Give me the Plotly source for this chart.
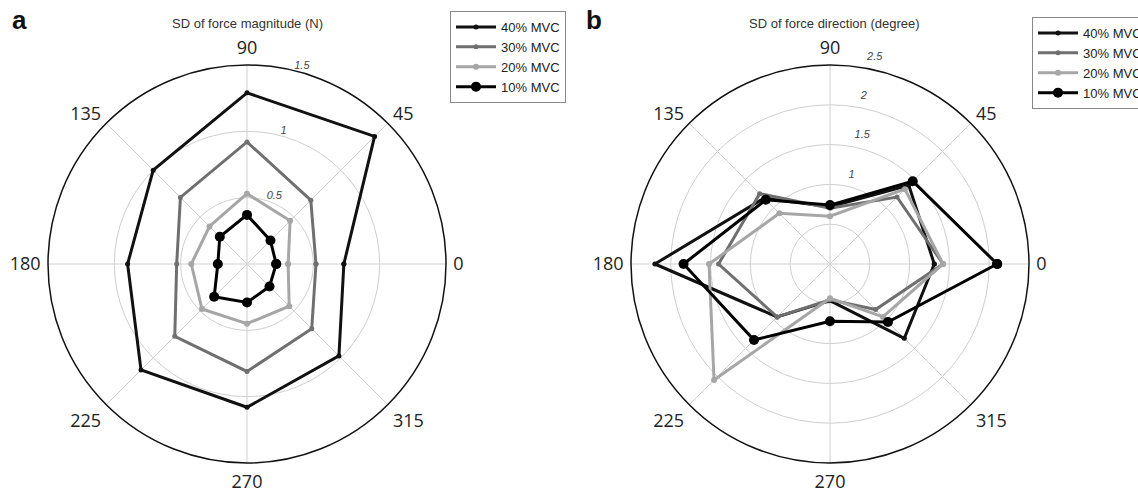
import plotly.graph_objects as go

# Angles (degrees) shared by both panels
angles = [0, 45, 90, 135, 180, 225, 270, 315]
series_names = ["40% MVC", "30% MVC", "20% MVC", "10% MVC"]

# Panel a: SD of force magnitude (N)
mag_40 = [0.73, 1.36, 1.29, 1.00, 0.90, 1.13, 1.08, 0.98]
mag_30 = [0.52, 0.68, 0.92, 0.71, 0.53, 0.77, 0.81, 0.69]
mag_20 = [0.31, 0.46, 0.53, 0.40, 0.42, 0.48, 0.45, 0.45]
mag_10 = [0.22, 0.25, 0.37, 0.29, 0.22, 0.35, 0.29, 0.24]

# Panel b: SD of force direction (degree)
dir_40 = [1.31, 1.40, 0.72, 1.17, 2.20, 0.94, 0.46, 1.32]
dir_30 = [1.42, 1.19, 0.70, 1.25, 1.40, 0.94, 0.45, 0.81]
dir_20 = [1.42, 1.33, 0.60, 0.90, 1.52, 2.06, 0.43, 0.94]
dir_10 = [2.10, 1.47, 0.74, 1.14, 1.84, 1.35, 0.72, 1.03]

mag_ticks = [0.5, 1, 1.5]
mag_ticktext = ["0.5", "1", "1.5"]
dir_ticks = [0.5, 1, 1.5, 2, 2.5]
dir_ticktext = ["", "1", "1.5", "2", "2.5"]

colors = ["#111111", "#6f6f6f", "#a6a6a6", "#000000"]
msizes = [5, 5, 6, 10]

W, H = 1138, 492

def closed(v):
    return list(v) + [v[0]]

def raised(labels, n):
    # blank trailing lines lift each radial label just outside its ring
    return [t + "<br> " * n if t else t for t in labels]

fig = go.Figure()
for data, sub, leg in [([mag_40, mag_30, mag_20, mag_10], "polar", "legend"),
                       ([dir_40, dir_30, dir_20, dir_10], "polar2", "legend2")]:
    for name, vals, c, ms in zip(series_names, data, colors, msizes):
        fig.add_trace(go.Scatterpolar(
            r=closed(vals), theta=closed(angles), mode="lines+markers",
            name=name, subplot=sub, legend=leg,
            line=dict(color=c, width=3),
            marker=dict(color=c, size=ms, symbol="circle"),
        ))

def polar_layout(xdom, rng, tv, tt, ang, lift):
    return dict(
        domain=dict(x=xdom, y=[1 - 463/H, 1 - 65/H]),
        bgcolor="white",
        angularaxis=dict(
            rotation=0, direction="counterclockwise",
            tickmode="array", tickvals=angles, ticktext=[str(a) for a in angles],
            showline=True, linecolor="#111111", linewidth=1.5,
            showgrid=True, gridcolor="#cfcfcf", gridwidth=1,
            ticks="outside", ticklen=3, tickcolor="rgba(0,0,0,0)",
            tickfont=dict(family="Open Sans", size=18, color="#222222"),
        ),
        radialaxis=dict(
            range=rng, angle=ang, side="clockwise", showline=False,
            tickmode="array", tickvals=tv, ticktext=raised(tt, lift), ticks="",
            tickangle=ang,
            showgrid=True, gridcolor="#cfcfcf", gridwidth=1,
            tickfont=dict(family="Liberation Sans", size=11, color="#444444", style="italic"),
        ),
    )

legend_style = dict(xanchor="left", yanchor="top",
                    bordercolor="#888888", borderwidth=1, bgcolor="white",
                    font=dict(family="Liberation Sans", size=13, color="#222222"),
                    tracegroupgap=0, itemwidth=40)

fig.update_layout(
    width=W, height=H,
    margin=dict(l=0, r=0, t=0, b=0, autoexpand=False),
    paper_bgcolor="white",
    polar=polar_layout([48/W, 446/W], [0, 1.5], mag_ticks, mag_ticktext, 78, 1),
    polar2=polar_layout([631/W, 1029/W], [0, 2.5], dir_ticks, dir_ticktext, 81, 2),
    legend=dict(x=450/W, y=1 - 11/H, **legend_style),
    legend2=dict(x=1032/W, y=1 - 17/H, **legend_style),
    annotations=[
        dict(text="<b>a</b>", x=10/W, y=1 - 20/H, xref="paper", yref="paper",
             xanchor="left", yanchor="middle", showarrow=False,
             font=dict(family="Liberation Sans", size=26, color="#111111")),
        dict(text="<b>b</b>", x=584/W, y=1 - 20/H, xref="paper", yref="paper",
             xanchor="left", yanchor="middle", showarrow=False,
             font=dict(family="Liberation Sans", size=26, color="#111111")),
        dict(text="SD of force magnitude (N)", x=247/W, y=1 - 23/H,
             xref="paper", yref="paper", xanchor="center", yanchor="middle",
             showarrow=False, font=dict(family="Liberation Sans", size=13, color="#333333")),
        dict(text="SD of force direction (degree)", x=834/W, y=1 - 23/H,
             xref="paper", yref="paper", xanchor="center", yanchor="middle",
             showarrow=False, font=dict(family="Liberation Sans", size=13, color="#333333")),
    ],
)

fig.write_html("out.html", config={"displayModeBar": False},
               post_script="document.body.style.margin='0';")
